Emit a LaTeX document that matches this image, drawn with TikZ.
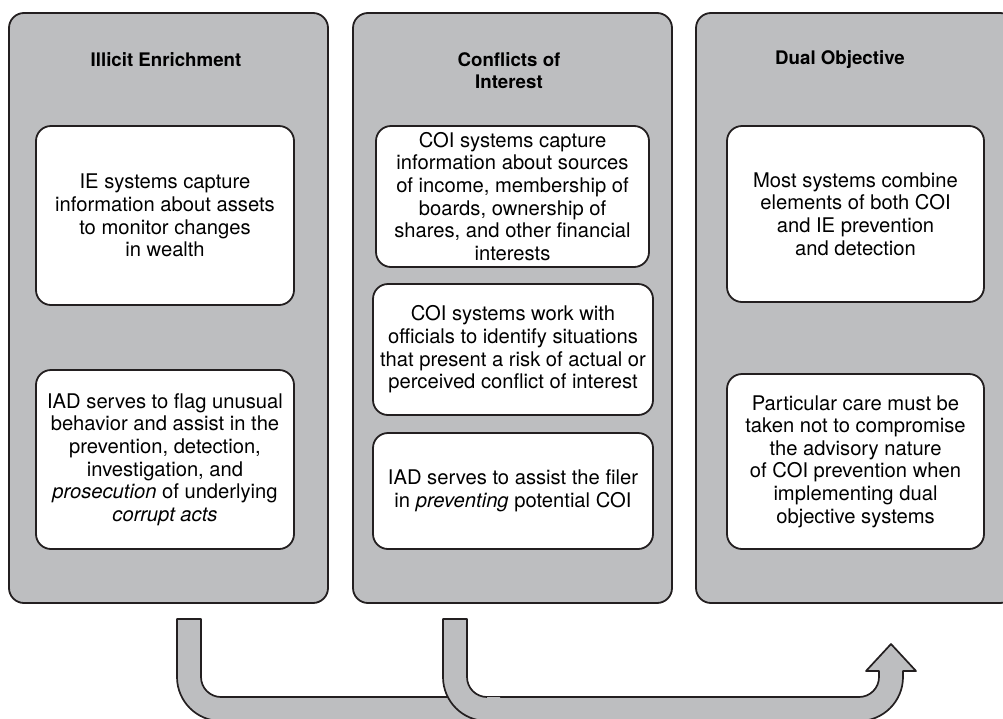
\documentclass[tikz,border=0pt]{standalone}
\usepackage{fontspec}
\setmainfont{TeX Gyre Heros}
\definecolor{panelgray}{RGB}{189,190,192}
\definecolor{linegray}{RGB}{35,31,32}
\tikzset{
  panel/.style={draw=linegray, fill=panelgray, line width=1.8pt, rounded corners=15pt,
    minimum width=319pt, minimum height=590pt, inner sep=0pt},
  textbox/.style={draw=linegray, fill=white, line width=1.8pt, rounded corners=15pt,
    inner sep=0pt, align=center, font=\fontsize{20.2}{22.6}\selectfont},
  title/.style={align=center, font=\fontsize{18.7}{22}\selectfont\bfseries},
  flow/.style={draw=linegray, fill=panelgray, line width=1.7pt, line join=round}
}
\begin{document}
\begin{tikzpicture}[x=1pt, y=1pt, yscale=-1]
    \useasboundingbox (0,0) rectangle (1003,718);
    \clip (0,0) rectangle (1003,718);
    \node[panel] (ie) at (168.5,308) {};
    \node[panel] (coi) at (512.5,308) {};
    \node[panel] (dual) at (855.5,308) {};
    \node[title] (ieT) at (166,60) {Illicit Enrichment};
    \node[title] (coiT) at (509,71) {Conflicts of\\Interest};
    \node[title] (dualT) at (840,60) {Dual Objective};
    \node[textbox, minimum width=258pt, minimum height=179pt] (ie1) at (165,215.5)
        {IE systems capture\\information about assets\\to monitor changes\\in wealth};
    \node[textbox, minimum width=258pt, minimum height=179pt] (ie2) at (165,459.5)
        {IAD serves to flag unusual\\behavior and assist in the\\prevention, detection,\\investigation, and\\\textit{prosecution} of underlying\\\textit{corrupt acts}};
    \node[textbox, minimum width=273pt, minimum height=141pt] (coi1) at (512.5,196.5)
        {COI systems capture\\information about sources\\of income, membership of\\boards, ownership of\\shares, and other financial\\interests};
    \node[textbox, minimum width=280pt, minimum height=131pt] (coi2) at (513,349.5)
        {COI systems work with\\officials to identify situations\\that present a risk of actual or\\perceived conflict of interest};
    \node[textbox, minimum width=280pt, minimum height=116pt] (coi3) at (513,491)
        {IAD serves to assist the filer\\in \textit{preventing} potential COI};
    \node[textbox, minimum width=257pt, minimum height=176pt] (dual1) at (855.5,214)
        {Most systems combine\\elements of both COI\\and IE prevention\\and detection};
    \node[textbox, minimum width=257pt, minimum height=175pt] (dual2) at (855.5,461.5)
        {Particular care must be\\taken not to compromise\\the advisory nature\\of COI prevention when\\implementing dual\\objective systems};
    \draw[flow] (177,619) -- (201,619) -- (201,677) arc[start angle=180, end angle=90, radius=20]
        -- (859,697) arc[start angle=90, end angle=0, radius=20] -- (879,671) -- (866,671)
        -- (891,644) -- (916,671) -- (903,671) -- (903,677) arc[start angle=0, end angle=90, radius=44]
        -- (221,721) arc[start angle=90, end angle=180, radius=44] -- cycle;
    \fill[panelgray] (443,619) -- (467,619) -- (467,677) arc[start angle=180, end angle=90, radius=20]
        -- (500,697) -- (500,721) -- (487,721) arc[start angle=90, end angle=180, radius=44] -- cycle;
    \draw[linegray, line width=1.7pt, line join=round] (487,697) arc[start angle=90, end angle=180, radius=20]
        -- (467,619) -- (443,619) -- (443,677) arc[start angle=180, end angle=90, radius=44];
\end{tikzpicture}
\end{document}
